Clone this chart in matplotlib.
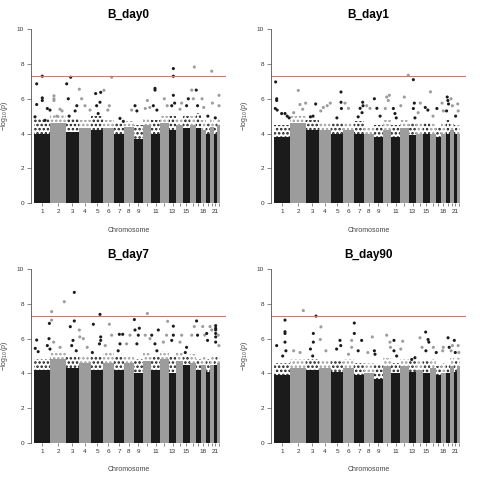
import numpy as np
import matplotlib
matplotlib.use("Agg")
import matplotlib.pyplot as plt

plt.rcParams["font.family"] = ["Liberation Sans", "DejaVu Sans"]
plt.rcParams["mathtext.fontset"] = "custom"
plt.rcParams["mathtext.rm"] = "Liberation Sans"
plt.rcParams["mathtext.it"] = "Liberation Sans:italic"
plt.rcParams["hatch.linewidth"] = 1.2

# chromosome lengths in Mb (hg19), chr1..chr22
chrom_len = [249.3, 243.2, 198.0, 191.2, 180.9, 171.1, 159.1, 146.4, 141.2, 135.5, 135.0,
             133.9, 115.2, 107.3, 102.5, 90.4, 81.2, 78.1, 59.1, 63.0, 48.1, 51.3]
tick_labels = ["1", "2", "3", "4", "5", "6", "7", "8", "9", "", "11",
               "", "13", "", "15", "", "", "18", "", "", "21", ""]

titles = ["B_day0", "B_day1", "B_day7", "B_day90"]

# height of the solid cloud of points per chromosome
body_day0 = [4.0, 4.6, 4.1, 4.3, 4.2, 4.3, 4.0, 4.4, 3.7, 4.5, 4.0,
             4.6, 4.2, 4.5, 4.3, 4.5, 4.3, 4.2, 4.0, 4.4, 4.0, 4.5]
body_day1 = [3.8, 4.6, 4.2, 4.2, 4.0, 4.2, 4.0, 4.0, 3.8, 4.2, 3.8,
             4.3, 3.9, 4.0, 4.0, 4.0, 3.8, 4.0, 4.0, 4.2, 4.0, 4.0]
body_day7 = [4.2, 4.8, 4.3, 4.6, 4.2, 4.6, 4.2, 4.6, 4.0, 4.7, 4.2,
             4.8, 4.0, 4.7, 4.5, 4.6, 4.2, 4.5, 4.1, 4.5, 4.5, 4.6]
body_day90 = [3.9, 4.3, 4.2, 4.3, 4.1, 4.3, 3.9, 4.0, 3.7, 4.4, 4.0,
              4.4, 4.1, 4.2, 4.0, 4.3, 3.9, 4.0, 4.0, 4.4, 4.1, 4.4]

# upper edge of the thinning fringe above the solid cloud
fringe_day0 = [4.9, 5.1, 4.9, 4.8, 5.0, 4.8, 4.6, 4.7, 4.5, 4.9, 4.8,
               5.0, 5.0, 4.9, 5.0, 5.0, 5.2, 4.8, 4.6, 4.9, 4.6, 4.9]
fringe_day1 = [4.5, 5.0, 4.8, 4.6, 4.6, 4.6, 4.7, 4.4, 4.5, 4.8, 4.5,
               4.8, 4.6, 4.6, 4.6, 4.6, 4.4, 4.6, 4.8, 4.6, 4.5, 4.5]
fringe_day7 = [4.8, 5.3, 5.0, 5.0, 5.0, 5.2, 5.0, 5.0, 4.8, 5.2, 5.0,
               5.3, 5.0, 5.2, 5.0, 5.1, 4.8, 5.0, 4.8, 5.0, 5.0, 5.0]
fringe_day90 = [4.6, 4.8, 4.8, 4.7, 4.7, 4.8, 4.6, 4.6, 4.5, 4.9, 4.6,
                4.8, 4.7, 4.7, 4.7, 4.8, 4.4, 4.6, 4.5, 4.9, 4.7, 4.9]

# scattered points above the cloud: (genome position in Mb, -log10 p)
hits_day0 = [(11, 4.96), (37, 6.86), (37, 5.67), (124, 7.3), (124, 6.05), (124, 5.9),
             (166, 4.76), (202, 5.44), (243, 5.35),
             (305, 6.17), (305, 6.0), (305, 5.9), (398, 5.4), (430, 5.3), (350, 5.0),
             (502, 6.86), (564, 7.24), (527, 6.0), (540, 5.0), (633, 5.3), (659, 5.6),
             (698, 6.55), (734, 6.0), (786, 5.6), (864, 5.35),
             (951, 6.3), (1029, 6.37), (1018, 5.8), (966, 5.6), (990, 5.15),
             (1080, 6.49), (1163, 5.6), (1199, 7.24), (1140, 5.35),
             (1328, 4.87), (1380, 4.7), (1509, 5.35), (1561, 5.6), (1590, 5.3),
             (1752, 5.9), (1720, 5.44), (1790, 5.5),
             (1871, 6.6), (1871, 6.5), (1845, 5.6), (1900, 5.35),
             (2015, 6.0), (2060, 5.6),
             (2155, 7.74), (2155, 7.3), (2155, 6.2), (2130, 5.6), (2175, 5.75),
             (2284, 5.75), (2258, 5.4), (2387, 6.0), (2360, 5.6),
             (2440, 6.5), (2480, 7.83), (2465, 6.0), (2510, 6.5), (2530, 5.6),
             (2600, 6.0), (2625, 5.5), (2690, 5.0), (2750, 7.59), (2760, 5.75),
             (2805, 4.9), (2863, 6.2), (2863, 5.6)]
hits_day1 = [(21, 6.97), (37, 6.0), (37, 5.9), (15, 5.44), (45, 5.35), (114, 5.15),
             (166, 5.15), (200, 5.0), (230, 4.9),
             (372, 6.48), (398, 5.67), (486, 5.75), (440, 5.4), (300, 5.2),
             (641, 5.7), (560, 4.96), (600, 5.0),
             (760, 5.5), (820, 5.6), (868, 5.75), (720, 5.3),
             (1034, 6.39), (1034, 5.8), (1040, 5.44), (970, 4.9),
             (1096, 5.75), (1150, 5.45),
             (1370, 5.8), (1330, 5.45), (1300, 4.96), (1375, 5.6), (1360, 5.2),
             (1432, 5.6), (1483, 5.45), (1551, 6.0), (1590, 5.45), (1640, 5.0),
             (1742, 6.1), (1783, 6.2), (1767, 5.9), (1720, 5.44),
             (1845, 5.44), (1870, 5.15), (1890, 4.9),
             (2015, 6.1), (2077, 7.36), (1960, 5.6),
             (2155, 7.1), (2170, 5.75), (2155, 5.44), (2180, 4.9),
             (2263, 5.75), (2230, 5.2), (2340, 5.5), (2380, 5.35),
             (2420, 6.4), (2460, 5.0), (2520, 5.44), (2600, 5.75), (2620, 5.3),
             (2680, 6.1), (2690, 5.9), (2700, 5.7), (2670, 5.3),
             (2740, 6.0), (2760, 5.6), (2810, 5.0), (2843, 5.7), (2850, 5.3)]
hits_day7 = [(37, 5.92), (15, 5.44), (60, 5.25), (202, 5.6), (228, 6.0), (243, 5.4), (234, 6.88),
             (269, 7.56), (269, 7.07), (465, 8.13), (300, 5.8), (400, 5.5),
             (620, 8.67), (620, 7.02), (558, 6.69), (580, 5.6), (600, 5.9), (650, 5.3),
             (698, 6.5), (705, 6.1), (760, 6.0), (820, 5.5),
             (915, 6.83), (1018, 7.4), (1029, 6.1), (1029, 5.9), (1010, 5.7), (900, 5.2),
             (1163, 6.83), (1199, 6.2), (1100, 5.6),
             (1318, 6.25), (1370, 6.25), (1328, 5.7), (1300, 5.3),
             (1483, 6.2), (1430, 5.7),
             (1551, 7.1), (1561, 6.5), (1612, 6.2), (1628, 6.6), (1590, 5.7),
             (1752, 7.45), (1793, 6.0), (1720, 6.2),
             (1820, 6.2), (1922, 6.5), (1870, 5.7), (1900, 5.3),
             (2067, 7.0), (2050, 6.2), (2000, 5.8),
             (2155, 6.72), (2155, 6.2), (2130, 5.9), (2258, 5.8), (2284, 6.2),
             (2360, 5.5), (2340, 5.2), (2480, 6.7), (2440, 6.2),
             (2515, 7.02), (2530, 6.2), (2610, 6.7), (2640, 6.2),
             (2672, 6.3), (2685, 5.9), (2723, 6.7), (2750, 6.5),
             (2811, 6.75), (2811, 6.6), (2811, 6.5), (2811, 6.3), (2811, 6.1), (2811, 5.8),
             (2850, 6.2), (2860, 5.6)]
hits_day90 = [(166, 7.07), (166, 6.4), (166, 6.3), (166, 5.8), (37, 5.6), (180, 5.3), (130, 5.0),
              (450, 7.62), (300, 5.3), (400, 5.2),
              (646, 7.3), (605, 6.3), (605, 5.8), (560, 5.4), (595, 5.0),
              (723, 6.68), (713, 5.95), (800, 5.3),
              (1018, 5.9), (966, 5.4), (1030, 5.6),
              (1199, 5.9), (1199, 5.5), (1150, 5.1),
              (1240, 6.9), (1240, 6.3), (1354, 5.9), (1300, 5.3),
              (1519, 6.1), (1450, 5.2), (1551, 5.3), (1561, 5.1),
              (1742, 6.2), (1793, 5.8), (1800, 5.5),
              (1855, 5.9), (1855, 5.3), (1896, 5.0), (1990, 5.85), (1960, 5.4),
              (2130, 4.8), (2180, 4.9), (2258, 6.05), (2290, 5.5),
              (2346, 6.38), (2383, 5.95), (2395, 5.8), (2350, 5.3),
              (2465, 5.5), (2510, 5.2), (2620, 5.5), (2610, 5.3),
              (2693, 6.05), (2710, 5.5), (2760, 5.6), (2740, 5.3),
              (2790, 5.9), (2805, 5.2), (2850, 5.6), (2860, 5.2)]

bodies = [body_day0, body_day1, body_day7, body_day90]
fringes = [fringe_day0, fringe_day1, fringe_day7, fringe_day90]
hits = [hits_day0, hits_day1, hits_day7, hits_day90]

lens = np.array(chrom_len)
starts = np.concatenate([[0], np.cumsum(lens)[:-1]])
centers = starts + lens / 2
chrom_cols = ["#1b1b1b" if i % 2 == 0 else "#9c9c9c" for i in range(22)]

fig = plt.figure(figsize=(4.8, 4.8), dpi=100)
# axes boxes in pixels: left, top(y of value 10), right, bottom(y of value 0)
boxes = [(31, 29.3, 226, 203), (271, 29.3, 466, 203),
         (31, 269.3, 226, 442.7), (271, 269.3, 466, 442.7)]

for k in range(4):
    l, t, r, b = boxes[k]
    ax = fig.add_axes([l / 480, 1 - b / 480, (r - l) / 480, (b - t) / 480])
    body = np.array(bodies[k])
    fringe = np.array(fringes[k])
    ax.bar(starts, body, width=lens, align="edge", color=chrom_cols, linewidth=0)
    ax.bar(starts, fringe - body, bottom=body, width=lens, align="edge",
           facecolor="none", edgecolor=chrom_cols, hatch="....", linewidth=0)
    pos = np.array([h[0] for h in hits[k]])
    val = np.array([h[1] for h in hits[k]])
    idx = np.searchsorted(starts, pos, side="right") - 1
    ax.scatter(pos, val, s=5, c=[chrom_cols[i] for i in idx], linewidths=0)
    ax.axhline(-np.log10(5e-8), color="#e07070", lw=0.8)
    ax.set_xlim(-51, 2971)
    ax.set_ylim(0, 10)
    ax.set_yticks([0, 2, 4, 6, 8, 10])
    ax.set_xticks(centers)
    ax.set_xticklabels(tick_labels)
    for s in ["top", "right", "bottom"]:
        ax.spines[s].set_visible(False)
    ax.spines["left"].set_linewidth(0.6)
    ax.spines["left"].set_color("#555555")
    ax.tick_params(axis="both", labelsize=4.6, colors="#555555", labelcolor="#333333",
                   width=0.5, length=2.5, pad=2)
    ax.tick_params(axis="y", length=3)
    ax.set_title(titles[k], fontsize=8.5, fontweight="bold", pad=8)
    ax.set_xlabel("Chromosome", fontsize=5, color="#444444", labelpad=9)
    ax.set_ylabel(r"$-\log_{10}(\mathit{p})$", fontsize=5, color="#444444", labelpad=5)

fig.savefig("out.png", dpi=100)
